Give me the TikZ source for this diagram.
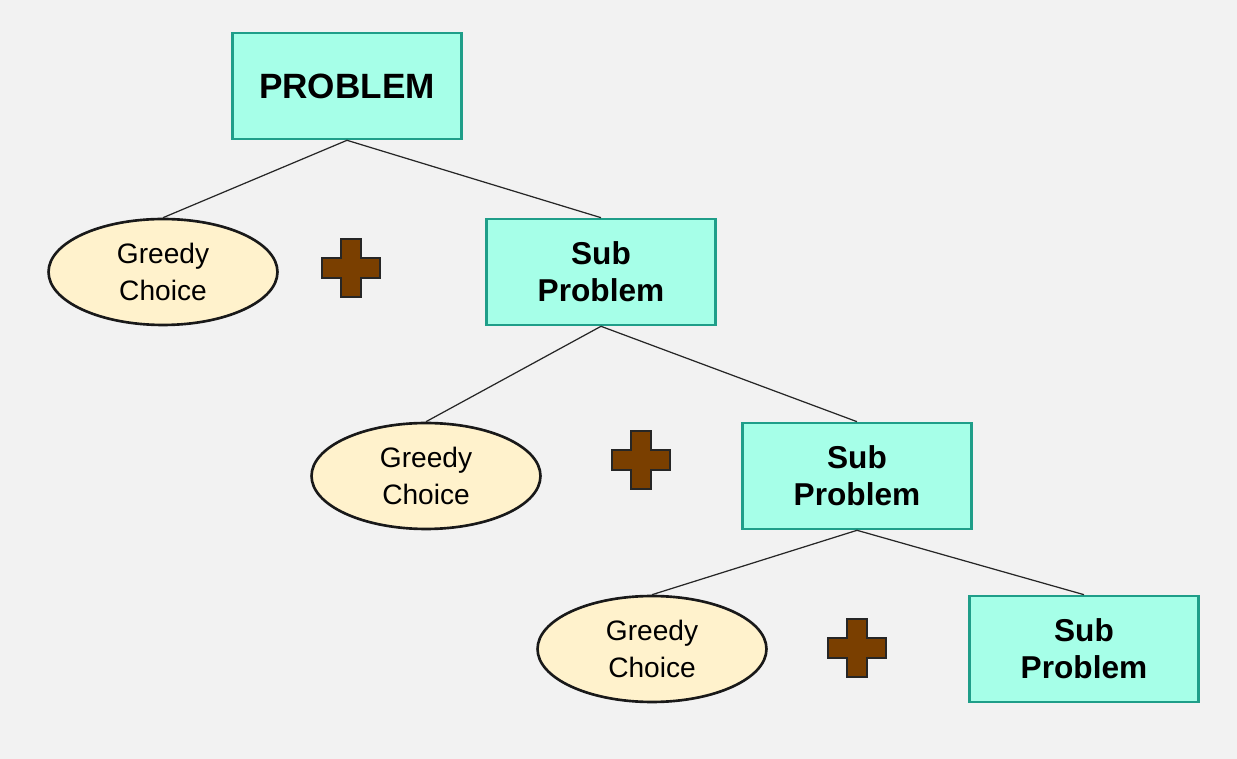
\documentclass[tikz,border=0pt]{standalone}
\usepackage{fontspec}
\setmainfont{Liberation Sans}
\usetikzlibrary{shapes.geometric}
\definecolor{bg}{HTML}{F2F2F2}
\definecolor{boxf}{HTML}{A6FFE8}
\definecolor{boxd}{HTML}{1F9E89}
\definecolor{ellf}{HTML}{FFF2CC}
\definecolor{plusf}{HTML}{7A3F00}
\begin{document}
\begin{tikzpicture}[x=0.02cm,y=-0.02cm,
 box/.style={draw=boxd,fill=boxf,line width=1.5pt,minimum width=4.58cm,minimum height=2.12cm,font=\fontsize{18}{21}\selectfont\bfseries,align=center},
 ell/.style={ellipse,draw=black!90,fill=ellf,line width=1.5pt,minimum width=4.58cm,minimum height=2.12cm,font=\fontsize{16}{21}\selectfont,align=center,inner sep=0pt},
 edge/.style={draw=black!85,line width=0.7pt},
 plus/.pic={\draw[fill=plusf,draw=black!85,line width=1.3pt]
   (-10,-29)--(10,-29)--(10,-10)--(29,-10)--(29,10)--(10,10)--(10,29)--(-10,29)--(-10,10)--(-29,10)--(-29,-10)--(-10,-10)--cycle;}]
\fill[bg] (0,0) rectangle (1237,759);
\useasboundingbox (0,0) rectangle (1237,759);
\node[box,font=\fontsize{20}{24}\selectfont\bfseries] (p) at (347,86) {PROBLEM};
\node[ell] (g1) at (163,272) {Greedy\\Choice};
\node[box] (s1) at (601,272) {Sub\\Problem};
\node[ell] (g2) at (426,476) {Greedy\\Choice};
\node[box] (s2) at (857,476) {Sub\\Problem};
\node[ell] (g3) at (652,649) {Greedy\\Choice};
\node[box] (s3) at (1084,649) {Sub\\Problem};
\pic at (351,268) {plus};
\pic at (641,460) {plus};
\pic at (857,648) {plus};
\draw[edge] (p.south) -- (g1.north);
\draw[edge] (p.south) -- (s1.north);
\draw[edge] (s1.south) -- (g2.north);
\draw[edge] (s1.south) -- (s2.north);
\draw[edge] (s2.south) -- (g3.north);
\draw[edge] (s2.south) -- (s3.north);
\end{tikzpicture}
\end{document}
